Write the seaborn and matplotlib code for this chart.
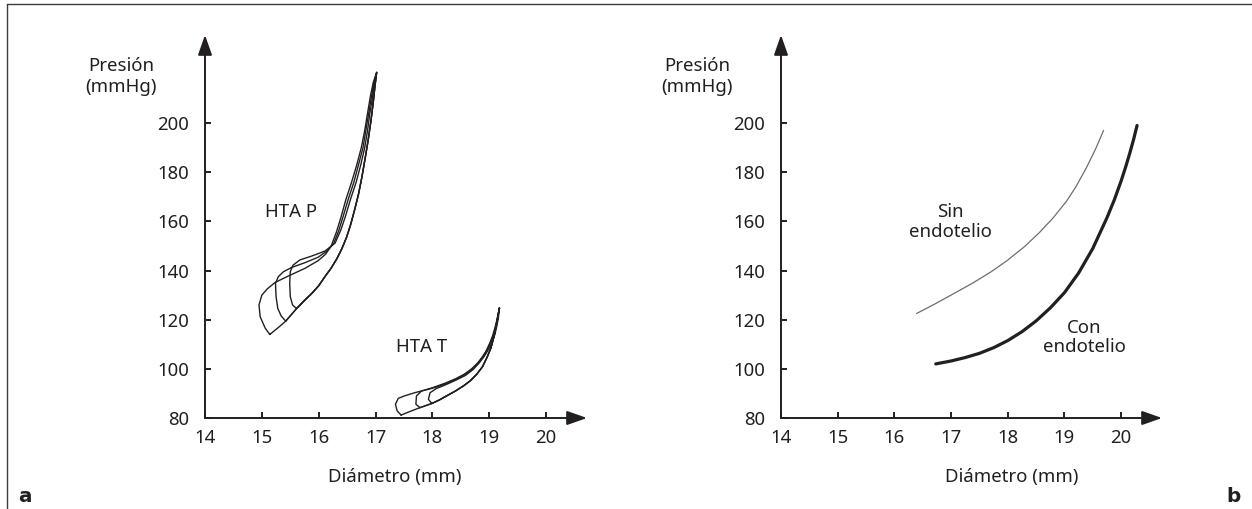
import matplotlib
matplotlib.use("Agg")
import matplotlib.pyplot as plt
import seaborn as sns
from matplotlib.lines import Line2D

# ---- panel a : HTA P loops (diameter mm, pressure mmHg) ----
htap_low_d = [15.14, 15.28, 15.42, 15.61, 15.75, 15.88, 16.00, 16.11, 16.22, 16.32, 16.41, 16.49,
              16.56, 16.63, 16.70, 16.76, 16.82, 16.87, 16.92, 16.96, 16.99, 17.02]
htap_low_p = [114.0, 116.6, 119.4, 124.5, 127.8, 130.7, 133.8, 137.5, 141.0, 144.8, 149.0, 153.5,
              158.5, 164.5, 171.0, 178.0, 186.0, 193.0, 201.0, 208.5, 215.0, 220.6]

htap_outer_d = [15.14, 15.06, 14.97, 14.95, 15.00, 15.09, 15.23, 15.47, 15.76, 15.99, 16.12, 16.22,
                16.31, 16.39, 16.48, 16.58, 16.67, 16.75, 16.81, 16.86, 16.91, 16.96, 17.02]
htap_outer_p = [114.0, 116.5, 121.2, 126.0, 130.0, 132.4, 135.1, 137.8, 140.9, 144.0, 146.6, 150.0,
                155.5, 161.5, 169.0, 176.0, 183.0, 190.0, 197.0, 204.0, 211.0, 216.5, 220.6]

htap_mid_d = [15.42, 15.34, 15.28, 15.25, 15.24, 15.29, 15.38, 15.53, 15.76, 15.99, 16.15, 16.26,
              16.35, 16.43, 16.52, 16.62, 16.70, 16.78, 16.83, 16.88, 16.93, 16.97, 17.02]
htap_mid_p = [119.4, 121.5, 124.6, 129.4, 134.8, 137.5, 139.5, 141.3, 143.2, 145.4, 148.0, 150.8,
              156.0, 162.0, 169.0, 176.0, 183.0, 190.0, 197.0, 204.0, 211.0, 216.5, 220.6]

htap_in_d = [15.61, 15.54, 15.50, 15.49, 15.50, 15.55, 15.67, 15.88, 16.11, 16.29, 16.39, 16.47,
             16.56, 16.66, 16.74, 16.81, 16.86, 16.90, 16.95, 16.98, 17.02]
htap_in_p = [124.5, 126.0, 129.4, 134.8, 139.5, 142.2, 144.3, 145.9, 147.9, 151.2, 156.5, 162.0,
             169.0, 176.0, 183.0, 190.0, 197.0, 204.0, 211.0, 216.5, 220.6]

# ---- panel a : HTA T loops ----
htat_low_d = [17.45, 17.60, 17.78, 17.99, 18.12, 18.25, 18.40, 18.55, 18.67, 18.78, 18.88, 18.96,
              19.03, 19.08, 19.13, 19.18]
htat_low_p = [81.2, 82.6, 84.2, 85.9, 87.3, 89.0, 90.9, 93.1, 95.2, 97.8, 100.8, 104.6,
              108.5, 112.8, 118.5, 124.8]

htat_outer_d = [17.45, 17.38, 17.35, 17.40, 17.51, 17.69, 17.95, 18.10, 18.25, 18.40, 18.55, 18.67,
                18.78, 18.87, 18.94, 19.01, 19.06, 19.11, 19.14, 19.18]
htat_outer_p = [81.2, 82.9, 85.6, 88.0, 89.0, 90.3, 91.8, 92.8, 94.0, 95.5, 97.3, 99.2,
                101.5, 104.2, 107.0, 110.5, 113.5, 117.5, 120.5, 124.8]

htat_mid_d = [17.78, 17.71, 17.72, 17.81, 18.00, 18.12, 18.25, 18.41, 18.56, 18.69, 18.80, 18.89,
              18.97, 19.03, 19.08, 19.12, 19.15, 19.18]
htat_mid_p = [84.2, 85.6, 89.0, 91.0, 92.3, 93.3, 94.4, 96.0, 97.8, 100.0, 102.5, 105.2,
              108.0, 111.0, 114.0, 117.5, 120.5, 124.8]

htat_in_d = [17.99, 17.93, 17.96, 18.07, 18.17, 18.28, 18.43, 18.58, 18.71, 18.82, 18.91, 18.99,
             19.05, 19.10, 19.13, 19.16, 19.18]
htat_in_p = [85.9, 87.6, 90.3, 92.0, 92.9, 94.0, 95.6, 97.3, 99.6, 102.3, 105.0, 108.0,
             111.0, 114.0, 117.0, 120.5, 124.8]

# ---- panel b ----
sin_d = [16.39, 16.70, 17.00, 17.39, 17.70, 17.98, 18.30, 18.56, 18.80, 19.03, 19.20, 19.38,
         19.55, 19.69]
sin_p = [122.5, 126.2, 130.0, 135.0, 139.4, 143.9, 149.8, 155.5, 161.4, 168.0, 174.0, 181.5,
         189.5, 197.0]

con_d = [16.73, 17.00, 17.25, 17.50, 17.75, 18.00, 18.25, 18.50, 18.75, 19.00, 19.25, 19.50,
         19.75, 19.88, 20.00, 20.08, 20.15, 20.22, 20.28]
con_p = [102.0, 103.2, 104.6, 106.3, 108.6, 111.5, 115.1, 119.5, 124.8, 131.0, 139.0, 149.0,
         161.5, 168.8, 176.5, 182.2, 187.6, 193.4, 199.0]

x_ticks = [14, 15, 16, 17, 18, 19, 20]
y_ticks = [80, 100, 120, 140, 160, 180, 200]

ink = "#231f20"
fs = 13.4

sns.set_theme(style="white")
plt.rcParams["font.family"] = ["Noto Sans", "DejaVu Sans"]

fig = plt.figure(figsize=(12.52, 5.09), dpi=100)
W, H = 1252, 509
axA = fig.add_axes([205 / W, 91 / H, 382 / W, 383 / H])
axB = fig.add_axes([781 / W, 91 / H, 381 / W, 383 / H])


def draw_loop(ax, up_d, up_p, low_d, low_p, k):
    d = list(up_d) + list(low_d[k:])[::-1]
    p = list(up_p) + list(low_p[k:])[::-1]
    sns.lineplot(x=d, y=p, sort=False, estimator=None, ax=ax, color=ink, lw=1.0)


draw_loop(axA, htap_outer_d, htap_outer_p, htap_low_d, htap_low_p, 0)
draw_loop(axA, htap_mid_d, htap_mid_p, htap_low_d, htap_low_p, 2)
draw_loop(axA, htap_in_d, htap_in_p, htap_low_d, htap_low_p, 3)
draw_loop(axA, htat_outer_d, htat_outer_p, htat_low_d, htat_low_p, 0)
draw_loop(axA, htat_mid_d, htat_mid_p, htat_low_d, htat_low_p, 2)
draw_loop(axA, htat_in_d, htat_in_p, htat_low_d, htat_low_p, 3)

sns.lineplot(x=sin_d, y=sin_p, sort=False, estimator=None, ax=axB, color="#6d6e71", lw=0.9)
sns.lineplot(x=con_d, y=con_p, sort=False, estimator=None, ax=axB, color=ink, lw=2.3)

axA.text(15.51, 163.7, "HTA P", ha="center", va="center", fontsize=fs, color=ink)
axA.text(17.81, 109.0, "HTA T", ha="center", va="center", fontsize=fs, color=ink)
axB.text(16.98, 159.7, "Sin\nendotelio", ha="center", va="center", fontsize=fs,
         color=ink, linespacing=1.1)
axB.text(19.35, 112.7, "Con\nendotelio", ha="center", va="center", fontsize=fs,
         color=ink, linespacing=1.1)

for ax in (axA, axB):
    ax.set_xlim(14, 20.72)
    ax.set_ylim(80, 235.8)
    ax.set_xticks(x_ticks)
    ax.set_yticks(y_ticks)
    ax.set_xlabel("")
    ax.set_ylabel("")
    for s in ax.spines.values():
        s.set_visible(False)
    ax.patch.set_alpha(0)
    ax.tick_params(direction="in", length=4.3, width=1.4, colors=ink,
                   labelsize=fs, bottom=True, left=True)
    ax.tick_params(axis="x", pad=8)
    ax.tick_params(axis="y", pad=11.5)
    arrow = dict(arrowstyle="-|>,head_length=1.22,head_width=0.43", mutation_scale=10,
                 lw=1.4, color=ink, shrinkA=0, shrinkB=0)
    ax.annotate("", xy=(1, 0), xytext=(0, 0), xycoords="axes fraction",
                textcoords="axes fraction", arrowprops=arrow, annotation_clip=False)
    ax.annotate("", xy=(0, 1), xytext=(0, 0), xycoords="axes fraction",
                textcoords="axes fraction", arrowprops=arrow, annotation_clip=False)

# axis titles
for xc in (121, 697):
    fig.text(xc / W, 1 - 76.5 / H, "Presión\n(mmHg)", ha="center", va="center",
             fontsize=fs, color=ink, linespacing=1.15)
fig.text(395 / W, 1 - 477 / H, "Diámetro (mm)", ha="center", va="center", fontsize=fs, color=ink)
fig.text(1012 / W, 1 - 477 / H, "Diámetro (mm)", ha="center", va="center", fontsize=fs, color=ink)

fig.text(18 / W, 7 / H, "a", ha="left", va="baseline", fontsize=fs + 1, fontweight="bold",
         family="DejaVu Sans", color=ink)
fig.text(1241 / W, 7 / H, "b", ha="right", va="baseline", fontsize=fs + 1, fontweight="bold",
         family="DejaVu Sans", color=ink)

# frame lines (top and left)
fig.add_artist(Line2D([7 / W, 1], [1 - 4 / H, 1 - 4 / H], transform=fig.transFigure, color="#3c3c3c", lw=1.0))
fig.add_artist(Line2D([7 / W, 7 / W], [0, 1 - 4 / H], transform=fig.transFigure, color="#3c3c3c", lw=1.0))

fig.savefig("out.png", dpi=100)
